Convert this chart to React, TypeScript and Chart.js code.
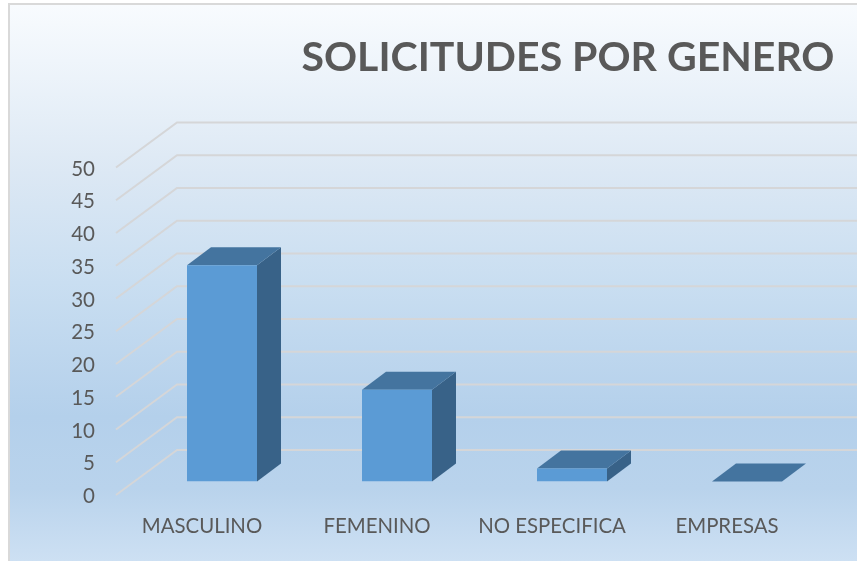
import React, { useEffect, useRef } from "react";
import { Chart, registerables } from "chart.js";

Chart.register(...registerables);

const CATEGORIES = ["MASCULINO", "FEMENINO", "NO ESPECIFICA", "EMPRESAS"];
const SOLICITUDES = [33, 14, 2, 0];
const TITLE = "SOLICITUDES POR GENERO";
const TICK_STEP = 5;
const AXIS_MAX = 50;

const FONT = "Lato, Carlito, sans-serif";
const TEXT = "#595959";
const GRID = "#D5D6D8";
const BAR_FRONT = "#5B9BD5";
const BAR_TOP = "#44749F";
const BAR_SIDE = "#386288";

const W = 857;
const H = 561;

const scene3d = {
  id: "scene3d",
  beforeDraw(chart: any) {
    const { ctx } = chart;
    ctx.save();
    ctx.fillStyle = "#ffffff";
    ctx.fillRect(0, 0, W, H);
    ctx.fillStyle = "#D9D9D9";
    ctx.fillRect(8, 3, W - 8, H - 3);
    const g = ctx.createLinearGradient(0, 5, 0, H);
    g.addColorStop(0, "#F8FBFE");
    g.addColorStop(0.1, "#EFF5FB");
    g.addColorStop(0.3, "#DCE8F4");
    g.addColorStop(0.5, "#C9DEF1");
    g.addColorStop(0.74, "#B4D0EB");
    g.addColorStop(0.87, "#B9D3EC");
    g.addColorStop(1, "#CDE0F3");
    ctx.fillStyle = g;
    ctx.fillRect(10, 5, W - 10, H - 5);
    ctx.restore();
  },
  beforeDatasetsDraw(chart: any) {
    const { ctx, chartArea, scales } = chart;
    const y = scales.y;
    ctx.save();
    // walls: gridlines on back wall and floor/side diagonals, from the y scale
    ctx.strokeStyle = GRID;
    ctx.lineWidth = 2;
    for (const t of y.ticks) {
      const py = y.getPixelForValue(t.value);
      ctx.beginPath();
      ctx.moveTo(chartArea.left - 18.5, py + 13.5);
      ctx.lineTo(chartArea.left + 42.5, py - 31.5);
      ctx.lineTo(W, py - 31.5);
      ctx.stroke();
    }
    // 3D faces of every bar, from the bar elements
    const meta = chart.getDatasetMeta(0);
    const dx = 24;
    const dy = -18;
    for (const el of meta.data) {
      const p = el.getProps(["x", "y", "base", "width"], true);
      const l = p.x - p.width / 2;
      const r = p.x + p.width / 2;
      ctx.fillStyle = BAR_SIDE;
      ctx.beginPath();
      ctx.moveTo(r, p.base);
      ctx.lineTo(r + dx, p.base + dy);
      ctx.lineTo(r + dx, p.y + dy);
      ctx.lineTo(r, p.y);
      ctx.closePath();
      ctx.fill();
      ctx.fillStyle = BAR_TOP;
      ctx.beginPath();
      ctx.moveTo(l, p.y);
      ctx.lineTo(l + dx, p.y + dy);
      ctx.lineTo(r + dx, p.y + dy);
      ctx.lineTo(r, p.y);
      ctx.closePath();
      ctx.fill();
    }
    ctx.restore();
  },
};

export default function App() {
  const ref = useRef<HTMLCanvasElement>(null);
  useEffect(() => {
    const chart = new Chart(ref.current as HTMLCanvasElement, {
      type: "bar",
      data: {
        labels: CATEGORIES,
        datasets: [
          {
            label: "Solicitudes",
            data: SOLICITUDES,
            backgroundColor: BAR_FRONT,
            borderWidth: 0,
            barPercentage: 0.4,
            categoryPercentage: 1,
          },
        ],
      },
      options: {
        responsive: false,
        animation: false,
        layout: { padding: { top: 0, right: 22.5, bottom: 0, left: 0 } },
        plugins: {
          legend: { display: false },
          tooltip: { enabled: false },
          title: {
            display: true,
            text: TITLE,
            align: "end",
            color: TEXT,
            font: { family: FONT, size: 41, weight: "bold" },
            padding: { top: 33, bottom: 71.8 },
          },
        },
        scales: {
          x: {
            grid: { display: false, drawTicks: false },
            border: { display: false },
            afterFit(s: any) {
              s.height = 79.5;
            },
            ticks: {
              color: TEXT,
              font: { family: FONT, size: 20.4 },
              padding: 33,
              labelOffset: -20,
              autoSkip: false,
              maxRotation: 0,
            },
          },
          y: {
            min: 0,
            max: AXIS_MAX,
            grid: { display: false, drawTicks: false },
            border: { display: false },
            afterFit(s: any) {
              s.width = 134.5;
            },
            ticks: {
              stepSize: TICK_STEP,
              color: TEXT,
              font: { family: FONT, size: 20.5 },
              padding: 39.5,
              labelOffset: 15,
            },
          },
        },
      },
      plugins: [scene3d],
    } as any);
    return () => chart.destroy();
  }, []);
  return (
    <div style={{ position: "absolute", left: 0, top: 0, width: W, height: H }}>
      <canvas ref={ref} width={W} height={H} style={{ display: "block" }} />
    </div>
  );
}
